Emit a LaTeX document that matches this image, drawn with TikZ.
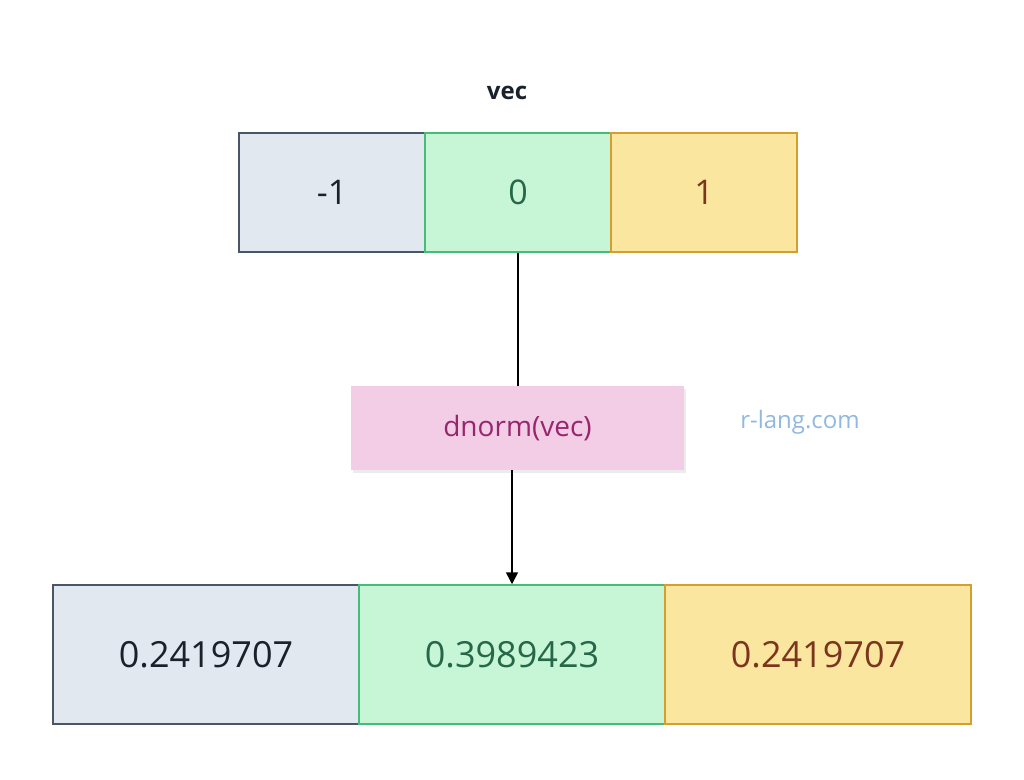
\documentclass[tikz,border=0pt]{standalone}
\usepackage{fontspec}
\setmainfont{Open Sans}
\usetikzlibrary{arrows.meta,shadows}
\definecolor{greyfill}{HTML}{E2E8F0}
\definecolor{greyline}{HTML}{4A5568}
\definecolor{greytext}{HTML}{1A202C}
\definecolor{greenfill}{HTML}{C6F6D5}
\definecolor{greenline}{HTML}{48BB78}
\definecolor{greentext}{HTML}{276749}
\definecolor{yellowfill}{HTML}{FAE69E}
\definecolor{yellowline}{HTML}{D69E2E}
\definecolor{yellowtext}{HTML}{7B341E}
\definecolor{pinkfill}{HTML}{F3CCE5}
\definecolor{pinktext}{HTML}{97266D}
\definecolor{webblue}{HTML}{90B8E0}
\tikzset{
  cell/.style={draw,line width=1.5pt,minimum height=119pt,minimum width=186pt,inner sep=0pt,font=\fontsize{34}{40}\selectfont},
  big/.style={cell,minimum height=139pt,minimum width=306pt,font=\fontsize{36}{44}\selectfont}
}
\begin{document}
\begin{tikzpicture}[x=1pt,y=-1pt]
				\useasboundingbox (0,0) rectangle (1024,779);
				\node(vec) at (507,93)[font=\fontsize{24}{28}\selectfont\bfseries,text=greytext]{vec};
				\node(a) at (332,192.5)[cell,fill=greyfill,draw=greyline,text=greytext]{-1};
				\node(b) at (518,192.5)[cell,fill=greenfill,draw=greenline,text=greentext]{0};
				\node(c) at (704,192.5)[cell,fill=yellowfill,draw=yellowline,text=yellowtext]{1};
				\node(f) at (517.5,428)[minimum width=333pt,minimum height=84pt,fill=pinkfill,text=pinktext,font=\fontsize{28}{34}\selectfont,drop shadow={opacity=0.15,shadow xshift=2pt,shadow yshift=-3pt}]{dnorm(vec)};
				\node(web) at (800,422)[text=webblue,font=\fontsize{24}{28}\selectfont]{r-lang.com};
				\node(x) at (206,654.5)[big,fill=greyfill,draw=greyline,text=greytext]{0.2419707};
				\node(y) at (512,654.5)[big,fill=greenfill,draw=greenline,text=greentext]{0.3989423};
				\node(z) at (818,654.5)[big,fill=yellowfill,draw=yellowline,text=yellowtext]{0.2419707};
				
				\draw[line width=1.5pt] (b.south) to (f.north -| b.south);
				\draw[line width=1.5pt,-{Triangle[length=12pt,width=12pt]}] (f.south -| y.north) to (y.north);
				
			\end{tikzpicture}
\end{document}
